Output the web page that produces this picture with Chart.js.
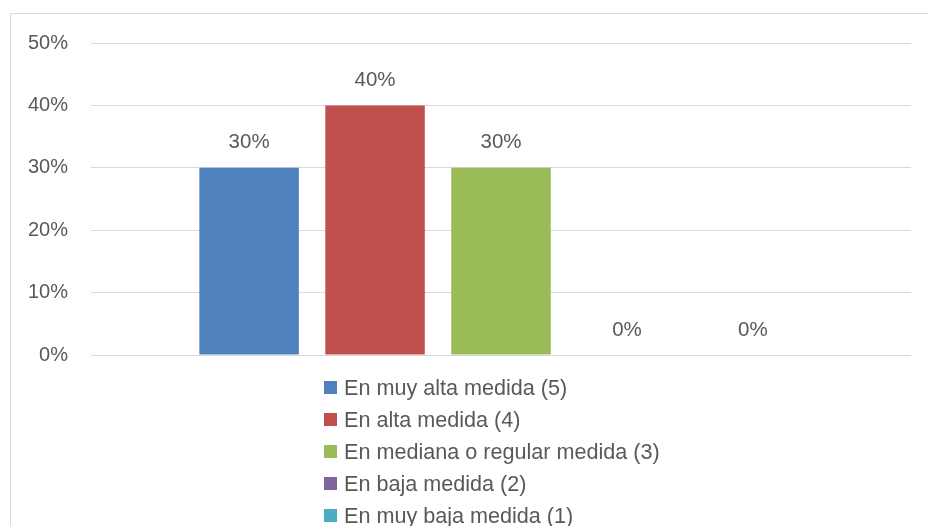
<!DOCTYPE html>
<html>
<head>
<meta charset="utf-8">
<script src="https://cdn.jsdelivr.net/npm/chart.js@4/dist/chart.umd.min.js"></script>
<style>
  html, body { margin: 0; padding: 0; background: #fff; }
  #wrap { width: 928px; height: 526px; position: relative; }
</style>
</head>
<body>
<div id="wrap"><canvas id="chart1"></canvas></div>
<script>
// datos del grafico
const categorias = [''];
const series = ['En muy alta medida (5)', 'En alta medida (4)', 'En mediana o regular medida (3)', 'En baja medida (2)', 'En muy baja medida (1)'];
const valores = [0.30, 0.40, 0.30, 0, 0];
const colores = ['#4f81bd', '#c0504d', '#9bbb59', '#8064a2', '#4bacc6'];
const ticksY = [0, 0.1, 0.2, 0.3, 0.4, 0.5];

const fuente = '"Liberation Sans", Arial, sans-serif';
const gris = '#595959';

const fmt = v => Math.round(v * 100) + '%';

// marco exterior del grafico
const marco = {
    id: 'marco',
    beforeDraw(chart) {
        const ctx = chart.ctx;
        ctx.save();
        ctx.strokeStyle = '#d9d9d9';
        ctx.lineWidth = 1;
        ctx.strokeRect(10.5, 13.5, 1000, 1000);
        ctx.restore();
    }
};

// etiquetas de valor sobre las barras
const etiquetas = {
    id: 'etiquetas',
    afterDatasetsDraw(chart) {
        const ctx = chart.ctx;
        ctx.save();
        ctx.font = '20.5px ' + fuente;
        ctx.fillStyle = gris;
        ctx.textAlign = 'center';
        ctx.textBaseline = 'middle';
        chart.data.datasets.forEach((ds, i) => {
            chart.getDatasetMeta(i).data.forEach((el, j) => {
                ctx.fillText(fmt(ds.data[j]), el.x, el.y - 25);
            });
        });
        ctx.restore();
    }
};

// leyenda vertical debajo del grafico
const leyenda = {
    id: 'leyenda',
    afterDraw(chart) {
        const ctx = chart.ctx;
        const x0 = 324;
        let y = 388;
        ctx.save();
        ctx.font = '21.6px ' + fuente;
        ctx.textBaseline = 'middle';
        ctx.textAlign = 'left';
        chart.data.datasets.forEach(ds => {
            ctx.fillStyle = ds.backgroundColor;
            ctx.fillRect(x0, y - 7, 13, 13);
            ctx.fillStyle = gris;
            ctx.fillText(ds.label, x0 + 20, y + 1);
            y += 32;
        });
        ctx.restore();
    }
};

const datasets = series.map((nombre, i) => ({
    label: nombre,
    data: [valores[i]],
    backgroundColor: colores[i],
    categoryPercentage: 0.768,
    barPercentage: 0.79
}));

new Chart(document.getElementById('chart1'), {
    type: 'bar',
    data: { labels: categorias, datasets: datasets },
    options: {
        responsive: true,
        maintainAspectRatio: false,
        animation: false,
        layout: { padding: { left: 10, top: 43, right: 17, bottom: 171 } },
        plugins: {
            legend: { display: false },
            tooltip: { enabled: false }
        },
        scales: {
            x: { display: false },
            y: {
                min: 0,
                max: 0.5,
                afterBuildTicks: scale => { scale.ticks = ticksY.map(v => ({ value: v })); },
                afterFit: scale => { scale.width = 81; },
                border: { display: false },
                grid: { color: '#d9d9d9', lineWidth: 1, drawTicks: false },
                ticks: {
                    padding: 23,
                    color: gris,
                    font: { family: fuente, size: 20 },
                    callback: v => fmt(v)
                }
            }
        }
    },
    plugins: [marco, etiquetas, leyenda]
});
</script>
</body>
</html>
